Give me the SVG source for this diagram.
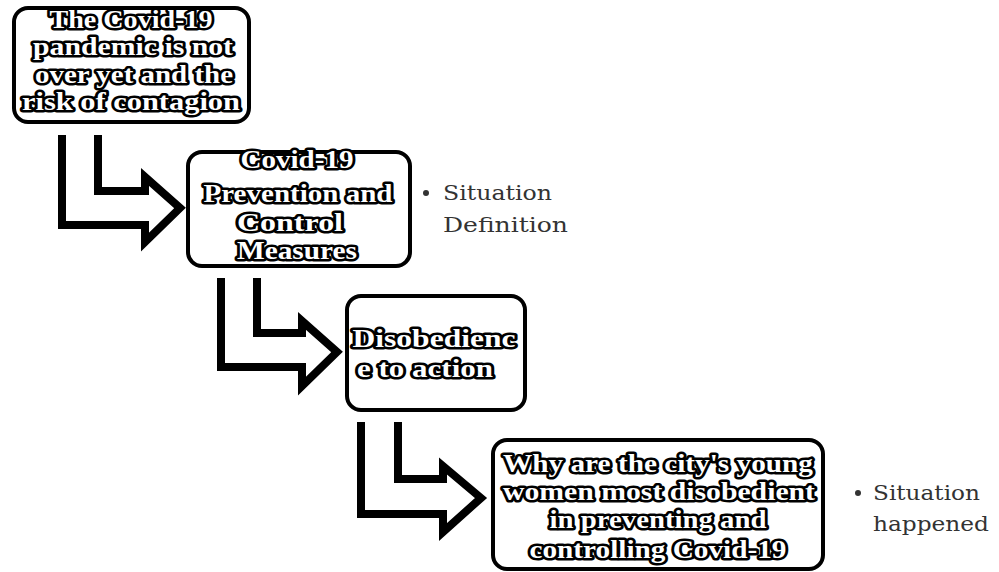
<svg xmlns="http://www.w3.org/2000/svg" width="999" height="572" viewBox="0 0 999 572">
<style>
.box{fill:#fff;stroke:#000;stroke-width:4}
.t{font-family:"Liberation Serif","DejaVu Serif",serif;font-weight:bold;font-size:25px;fill:#fff;stroke:#000;stroke-width:5;stroke-linejoin:round;paint-order:stroke;text-anchor:middle}
.arr{fill:#fff;stroke:#000;stroke-width:8;stroke-linejoin:miter}
.note{font-family:"DejaVu Serif","Liberation Serif",serif;font-size:21px;fill:#333}
</style>
<rect width="999" height="572" fill="#fff"/>
<g id="connectors">
<path class="arr" d="M62,135 V225 H145 V242 L180,208 L145,177 V191 H98 V135"/>
<path class="arr" d="M221,278 V367 H302 V386 L337,352 L302,321 V333 H257 V278"/>
<path class="arr" d="M361,422 V514 H443 V532 L481,498 L443,466 V479 H398 V422"/>
</g>
<g id="n1">
<rect class="box" x="14" y="8" width="235" height="114" rx="14"/>
<text class="t" x="131" y="28" textLength="163" lengthAdjust="spacingAndGlyphs">The Covid-19</text>
<text class="t" x="133" y="55" textLength="200" lengthAdjust="spacingAndGlyphs">pandemic is not</text>
<text class="t" x="134" y="83" textLength="198" lengthAdjust="spacingAndGlyphs">over yet and the</text>
<text class="t" x="131" y="110" textLength="218" lengthAdjust="spacingAndGlyphs">risk of contagion</text>
</g>
<g id="n2">
<rect class="box" x="188" y="152" width="222" height="114" rx="14"/>
<text class="t" x="297" y="168" textLength="113" lengthAdjust="spacingAndGlyphs">Covid-19</text>
<text class="t" x="298" y="202" textLength="189" lengthAdjust="spacingAndGlyphs">Prevention and</text>
<text class="t" x="290" y="231" textLength="106" lengthAdjust="spacingAndGlyphs">Control</text>
<text class="t" x="297" y="259" textLength="120" lengthAdjust="spacingAndGlyphs">Measures</text>
</g>
<g id="n3">
<rect class="box" x="347" y="296" width="178" height="114" rx="14"/>
<text class="t" x="434" y="347" textLength="163" lengthAdjust="spacingAndGlyphs">Disobedienc</text>
<text class="t" x="425" y="377" textLength="136" lengthAdjust="spacingAndGlyphs">e to action</text>
</g>
<g id="n4">
<rect class="box" x="493" y="440" width="330" height="129" rx="14"/>
<text class="t" x="658" y="472" textLength="310" lengthAdjust="spacingAndGlyphs">Why are the city's young</text>
<text class="t" x="659" y="500" textLength="312" lengthAdjust="spacingAndGlyphs">women most disobedient</text>
<text class="t" x="658" y="528" textLength="217" lengthAdjust="spacingAndGlyphs">in preventing and</text>
<text class="t" x="658" y="558" textLength="257" lengthAdjust="spacingAndGlyphs">controlling Covid-19</text>
</g>
<g id="note1">
<circle cx="426" cy="193" r="3" fill="#333"/>
<text class="note" x="443" y="200" textLength="109" lengthAdjust="spacingAndGlyphs">Situation</text>
<text class="note" x="443" y="232" textLength="125" lengthAdjust="spacingAndGlyphs">Definition</text>
</g>
<g id="note2">
<circle cx="858" cy="493" r="3" fill="#333"/>
<text class="note" x="873" y="500" textLength="107" lengthAdjust="spacingAndGlyphs">Situation</text>
<text class="note" x="873" y="531" textLength="116" lengthAdjust="spacingAndGlyphs">happened</text>
</g>
</svg>
